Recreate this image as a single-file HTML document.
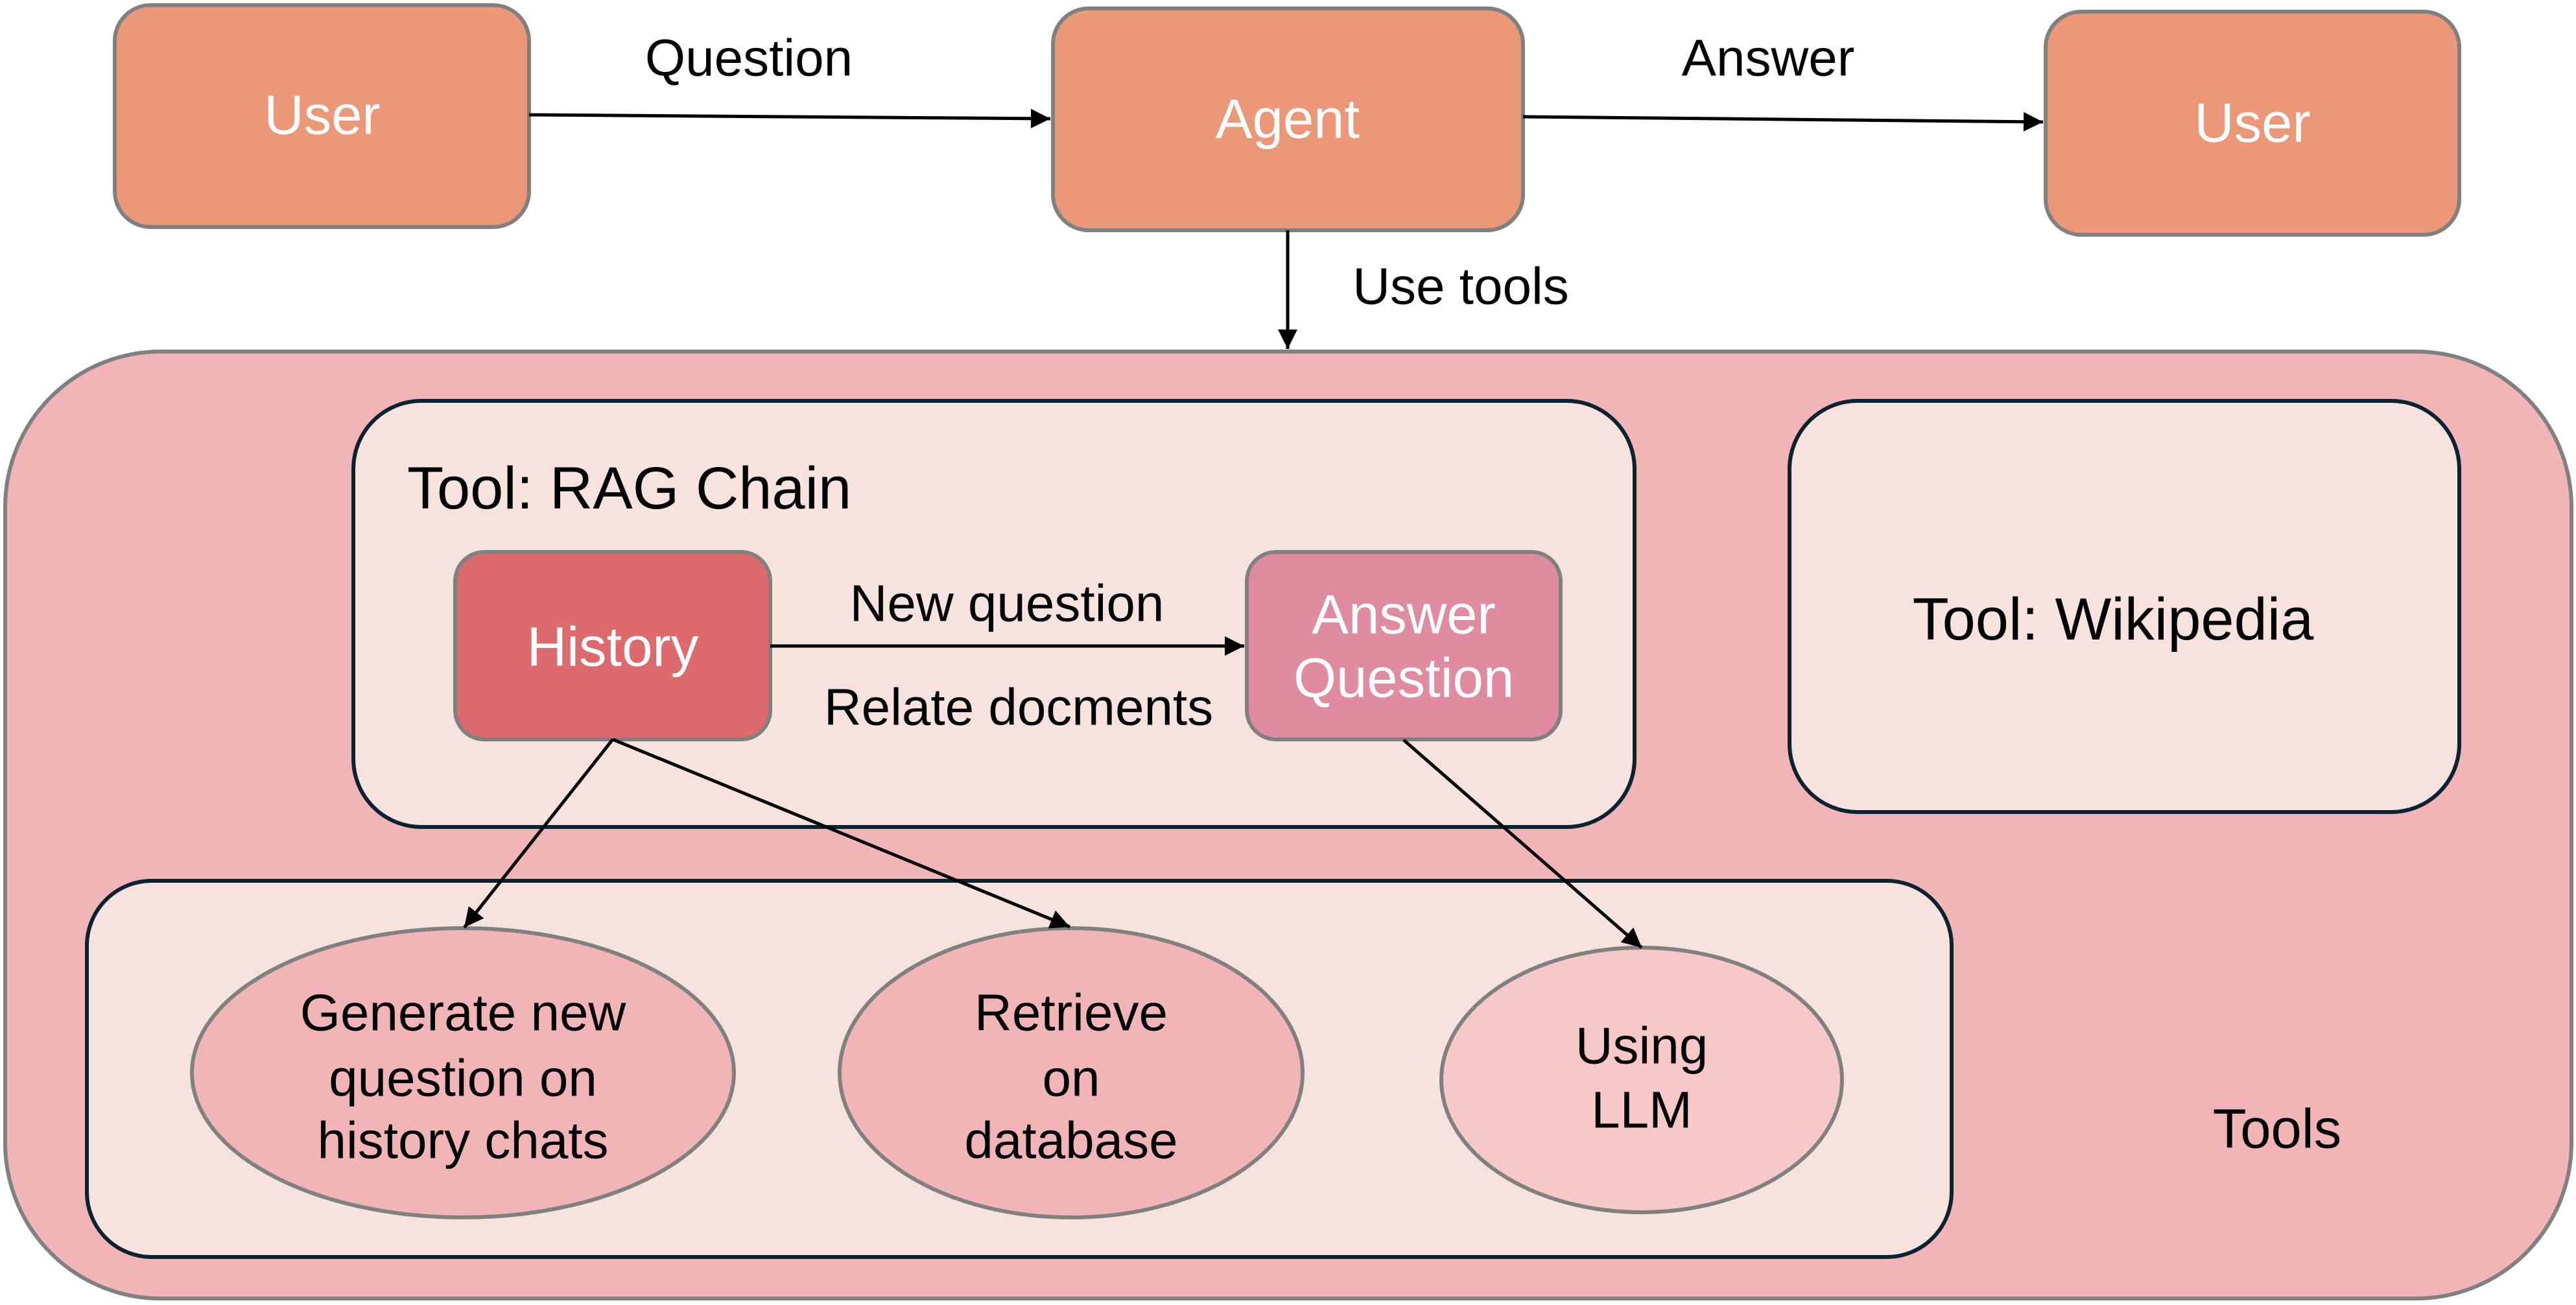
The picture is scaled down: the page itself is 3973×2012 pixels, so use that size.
<!DOCTYPE html>
<html><head><meta charset="utf-8"><style>
html,body{margin:0;padding:0;background:#fff;}
body{width:3973px;height:2007px;overflow:hidden;}
text{font-family:"Comic Sans MS","Liberation Sans",sans-serif;}
</style></head><body>
<svg width="3973" height="2007" viewBox="0 0 3973 2007" xmlns="http://www.w3.org/2000/svg">
<defs>
<marker id="ah" markerWidth="10" markerHeight="10" refX="9" refY="5" orient="auto" markerUnits="userSpaceOnUse" viewBox="0 0 10 10">
<path d="M0,0 L10,5 L0,10 Z" fill="#000"/>
</marker>
<marker id="a" viewBox="0 0 10 10" refX="10" refY="5" markerWidth="34" markerHeight="30" markerUnits="userSpaceOnUse" orient="auto"><path d="M0,0 L10,5 L0,10 Z" fill="#000"/></marker>
</defs>
<!-- top boxes -->
<rect x="177" y="8" width="639" height="342" rx="55" fill="#ea9878" stroke="#808080" stroke-width="6"/>
<rect x="1624" y="13" width="725" height="342" rx="55" fill="#ea9878" stroke="#808080" stroke-width="6"/>
<rect x="3155" y="18" width="638" height="344" rx="55" fill="#ea9878" stroke="#808080" stroke-width="6"/>
<g font-size="85" fill="#fff" text-anchor="middle" dominant-baseline="central">
<text x="497" y="178">User</text>
<text x="1986" y="184">Agent</text>
<text x="3474" y="190">User</text>
</g>
<line x1="816" y1="177" x2="1620" y2="183" stroke="#000" stroke-width="5" marker-end="url(#a)"/>
<line x1="2349" y1="180" x2="3151" y2="188" stroke="#000" stroke-width="5" marker-end="url(#a)"/>
<line x1="1986" y1="355" x2="1986" y2="538" stroke="#000" stroke-width="5" marker-end="url(#a)"/>
<g font-size="80" fill="#000" text-anchor="middle" dominant-baseline="central">
<text x="1155" y="89">Question</text>
<text x="2727" y="89">Answer</text>
<text x="2253" y="441">Use tools</text>
</g>
<!-- tools container -->
<rect x="8" y="542" width="3958" height="1460" rx="240" fill="#f1b5b7" stroke="#808080" stroke-width="6"/>
<rect x="545" y="618" width="1976" height="657" rx="105" fill="#f6e3de" stroke="#0b2230" stroke-width="6"/>
<rect x="2760" y="618" width="1033" height="634" rx="105" fill="#f6e3de" stroke="#0b2230" stroke-width="6"/>
<rect x="134" y="1358" width="2876" height="580" rx="100" fill="#f6e3de" stroke="#0b2230" stroke-width="6"/>
<text x="628" y="753" font-size="92" dominant-baseline="central">Tool: RAG Chain</text>
<text x="3259" y="955" font-size="92" text-anchor="middle" dominant-baseline="central">Tool: Wikipedia</text>
<text x="3512" y="1741" font-size="85" text-anchor="middle" dominant-baseline="central">Tools</text>
<rect x="702" y="851" width="486" height="289" rx="45" fill="#dd6b6d" stroke="#808080" stroke-width="6"/>
<rect x="1923" y="851" width="484" height="289" rx="45" fill="#df8ca0" stroke="#808080" stroke-width="6"/>
<g font-size="85" fill="#fff" text-anchor="middle" dominant-baseline="central">
<text x="945" y="998">History</text>
<text x="2165" y="948">Answer</text>
<text x="2165" y="1046">Question</text>
</g>
<line x1="1188" y1="996" x2="1919" y2="996" stroke="#000" stroke-width="5" marker-end="url(#a)"/>
<g font-size="80" text-anchor="middle" dominant-baseline="central">
<text x="1553" y="930">New question</text>
<text x="1571" y="1090">Relate docments</text>
</g>
<ellipse cx="714" cy="1654" rx="418" ry="223" fill="#f1b5b7" stroke="#808080" stroke-width="6"/>
<ellipse cx="1652" cy="1654" rx="357" ry="223" fill="#f1b5b7" stroke="#808080" stroke-width="6"/>
<ellipse cx="2532" cy="1665" rx="309" ry="204" fill="#f6c8c8" stroke="#808080" stroke-width="6"/>
<g font-size="80" text-anchor="middle" dominant-baseline="central">
<text x="714" y="1561">Generate new</text>
<text x="714" y="1662">question on</text>
<text x="714" y="1758">history chats</text>
<text x="1652" y="1561">Retrieve</text>
<text x="1652" y="1662">on</text>
<text x="1652" y="1758">database</text>
<text x="2532" y="1612">Using</text>
<text x="2532" y="1711">LLM</text>
</g>
<line x1="945" y1="1140" x2="716" y2="1430" stroke="#000" stroke-width="5" marker-end="url(#a)"/>
<line x1="945" y1="1140" x2="1650" y2="1429" stroke="#000" stroke-width="5" marker-end="url(#a)"/>
<line x1="2165" y1="1141" x2="2532" y2="1461" stroke="#000" stroke-width="5" marker-end="url(#a)"/>
</svg>
</body></html>
